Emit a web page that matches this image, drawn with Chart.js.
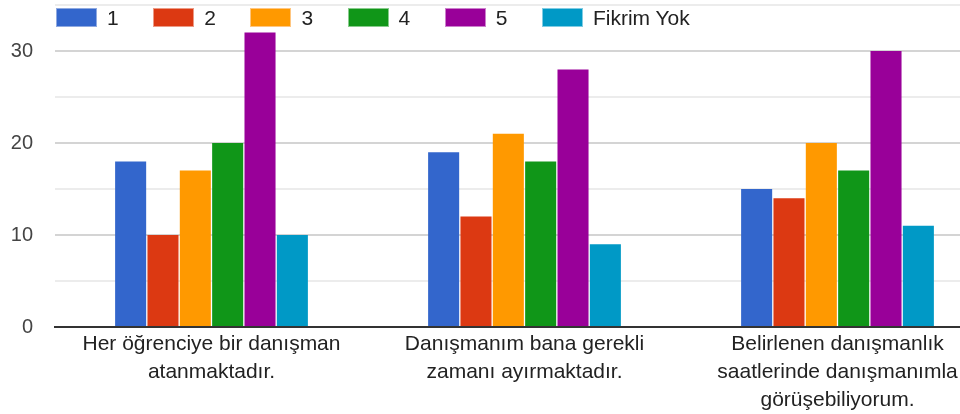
<!DOCTYPE html>
<html>
<head>
<meta charset="utf-8">
<script src="https://cdn.jsdelivr.net/npm/chart.js@4"></script>
<style>
  html, body { margin: 0; padding: 0; background: #fff; overflow: hidden; }
  #wrap { position: relative; width: 960px; height: 414px; overflow: hidden; }
  #myChart { position: absolute; left: 0; top: 0; }
  #legend { position: absolute; left: 56px; top: 8px; display: flex; font-family: Arial, 'Liberation Sans', sans-serif; font-size: 21px; color: #222; }
  .item { display: flex; align-items: center; margin-right: 34.5px; height: 19px; }
  .box { width: 39px; height: 17px; margin-right: 10px; border: 1px solid; }
</style>
</head>
<body>
<div id="wrap">
  <canvas id="myChart" width="1000" height="414"></canvas>
  <div id="legend"></div>
</div>
<script>
        const categories = [
          ['Her öğrenciye bir danışman', 'atanmaktadır.'],
          ['Danışmanım bana gerekli', 'zamanı ayırmaktadır.'],
          ['Belirlenen danışmanlık', 'saatlerinde danışmanımla', 'görüşebiliyorum.'],
        ];

        const seriesNames = ['1', '2', '3', '4', '5', 'Fikrim Yok'];
        const colors = ['#3366cc', '#dc3912', '#ff9900', '#109618', '#990099', '#0099c6'];
        const borders = ['#8fa9e0', '#ec9a85', '#ffc680', '#88cb8c', '#cc80cc', '#80cce3'];

        const s1 = [18, 19, 15];
        const s2 = [10, 12, 14];
        const s3 = [17, 21, 20];
        const s4 = [20, 18, 17];
        const s5 = [32, 28, 30];
        const sFikrimYok = [10, 9, 11];

        const yTicks = [0, 10, 20, 30];

        const values = [s1, s2, s3, s4, s5, sFikrimYok];
        const font = "Arial, 'Liberation Sans', sans-serif";

        // legend drawn as html so it can sit inside the plot top like the original
        var legend = document.getElementById('legend');
        seriesNames.forEach(function (name, i) {
          var item = document.createElement('div');
          item.className = 'item';
          item.innerHTML = '<span class="box" style="background:' + colors[i] + ';border-color:' + borders[i] + '"></span><span>' + name + '</span>';
          legend.appendChild(item);
        });

        const data = {
          labels: categories,
          datasets: seriesNames.map(function (name, i) {
            return {
              label: name,
              backgroundColor: colors[i],
              data: values[i],
              categoryPercentage: 0.62,
              barPercentage: 0.96,
            };
          })
        };

        const config = {
          type: 'bar',
          data: data,
          options: {
            responsive: false,
            animation: false,
            layout: { padding: { top: 5, right: 6, left: 0, bottom: 0 } },
            plugins: { legend: { display: false }, tooltip: { enabled: false } },
            scales: {
              x: {
                grid: { display: false, drawTicks: false },
                border: { color: '#333', width: 2 },
                ticks: { color: '#222', font: { family: font, size: 21, lineHeight: 1.33 }, padding: 3, maxRotation: 0, autoSkip: false },
                afterFit: function (s) { s.height = 87; }
              },
              y: {
                min: 0,
                max: 35,
                grid: {
                  drawTicks: false,
                  color: function (ctx) { return ctx.tick.value % 10 === 0 ? '#d4d4d4' : '#ececec'; },
                  lineWidth: 2
                },
                border: { display: false },
                ticks: {
                  stepSize: 5,
                  padding: 22,
                  color: '#444',
                  font: { family: font, size: 20 },
                  callback: function (v) { return yTicks.indexOf(v) >= 0 ? v : ''; }
                },
                afterFit: function (s) {
                  s.width = 55;
                  s.paddingTop = 0;
                  s.paddingBottom = 0;
                }
              }
            }
          }
        };

        const myChart = new Chart(
          document.getElementById('myChart'),
          config
        );
</script>
</body>
</html>
